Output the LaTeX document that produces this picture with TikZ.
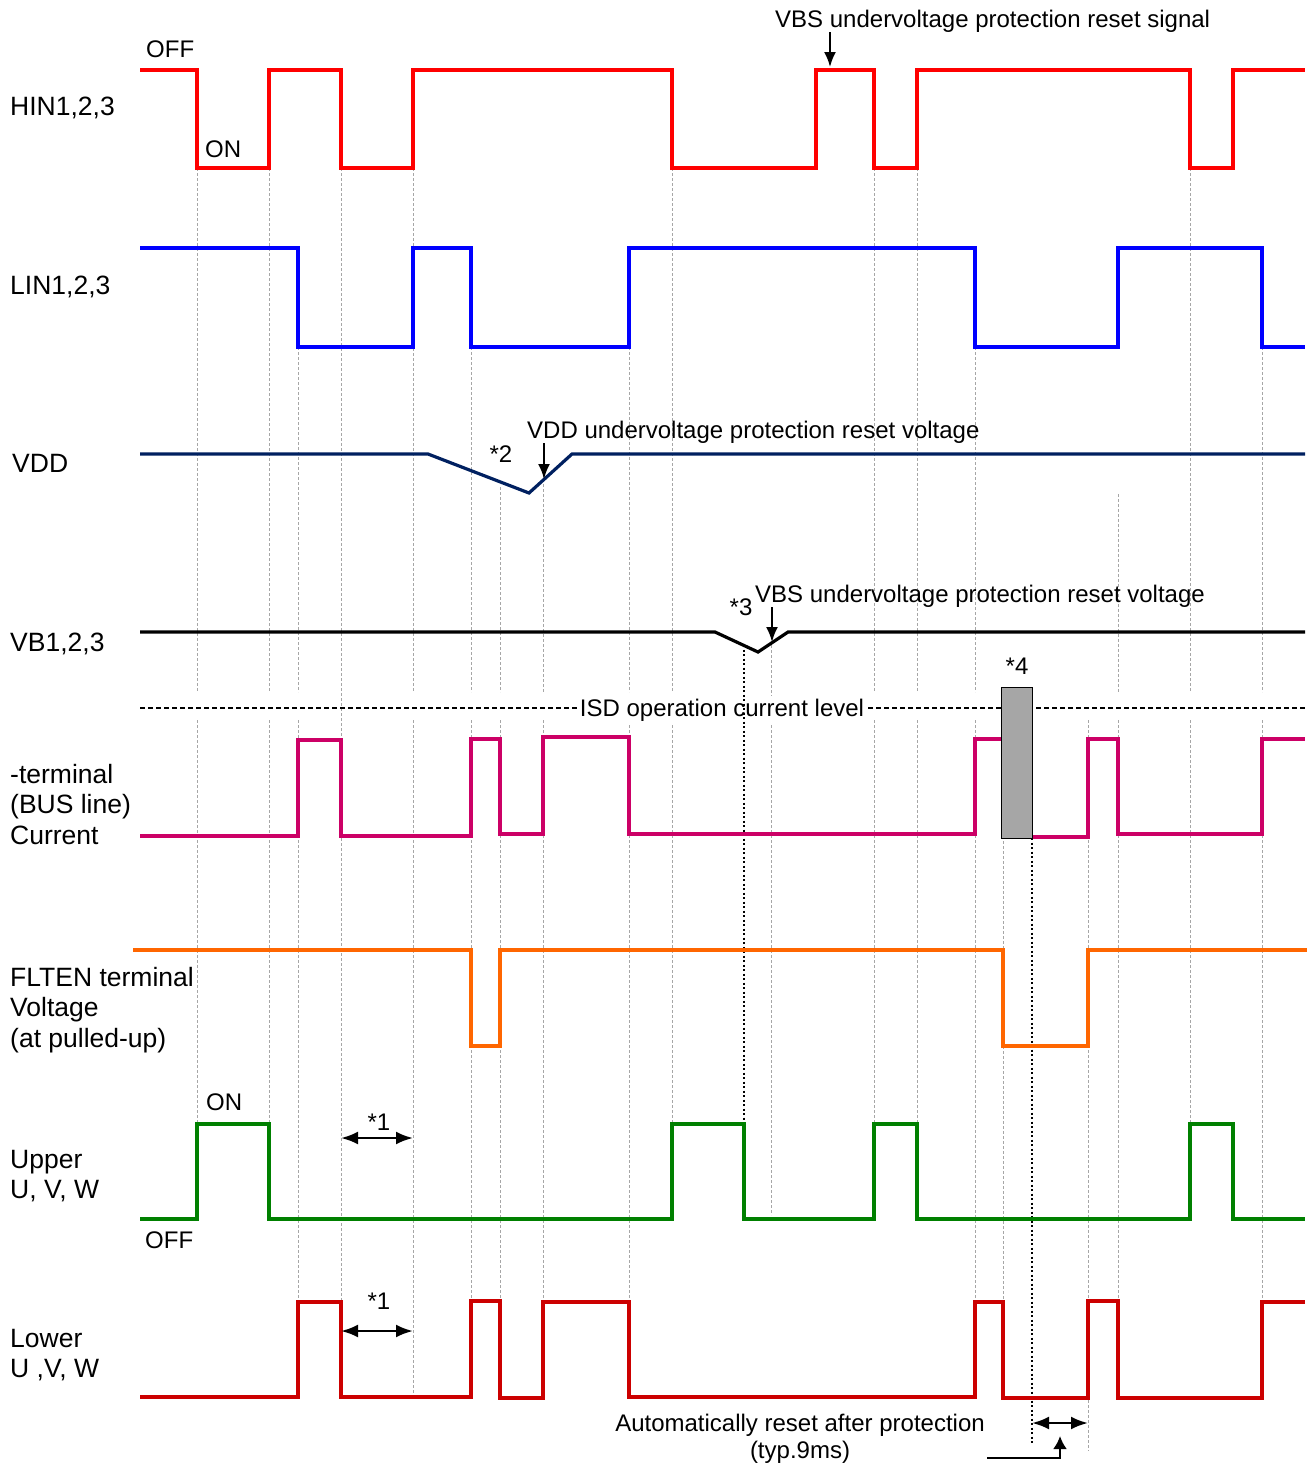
\documentclass[tikz,border=0pt]{standalone}
\usepackage{fontspec}
\setmainfont{Liberation Sans}
\usetikzlibrary{arrows.meta}
\definecolor{hinc}{RGB}{255,0,0}
\definecolor{linc}{RGB}{0,0,255}
\definecolor{vddc}{RGB}{0,32,96}
\definecolor{curc}{RGB}{204,0,102}
\definecolor{fltc}{RGB}{255,102,0}
\definecolor{uppc}{RGB}{0,128,0}
\definecolor{lowc}{RGB}{204,0,0}
\definecolor{boxgray}{RGB}{166,166,166}
\tikzset{
  sig/.style={line width=3.2pt, line join=miter},
  grid/.style={draw=black!35, line width=0.6pt, dash pattern=on 3pt off 2pt},
  lbl/.style={anchor=base west, inner sep=0pt, font=\fontsize{26.5}{30}\selectfont},
  txt/.style={anchor=base west, inner sep=0pt, font=\fontsize{24}{29}\selectfont},
  ctxt/.style={anchor=base, inner sep=0pt, font=\fontsize{24}{29}\selectfont},
  ptr/.style={line width=2pt, -{Latex[length=15pt,width=12pt]}},
  dbl/.style={line width=2.6pt, {Latex[length=17pt,width=13pt]}-{Latex[length=17pt,width=13pt]}},
  dots/.style={line width=2pt, dash pattern=on 2pt off 2.5pt}
}
\begin{document}
\begin{tikzpicture}[x=1pt,y=-1pt]
\useasboundingbox (0,0) rectangle (1314,1465);

% grid lines upper part
\foreach \x/\a/\b in {197/168/692, 269/168/692, 298/347/692, 341/168/1398, 413/168/692,
  471/347/692, 500/487/692, 543/474/692, 629/347/692, 672/168/692, 771/645/1215,
  874/168/692, 917/168/692, 975/347/692, 1118/494/692, 1190/168/692, 1262/347/692}
  \draw[grid] (\x,\a) -- (\x,\b);
% grid lines lower part
\foreach \x/\a/\b in {197/720/1124, 269/720/1219, 298/720/1398, 413/720/1398, 471/720/1398,
  500/720/1398, 543/720/1398, 629/720/1398, 672/720/1124, 874/720/1124, 917/720/1124,
  975/720/1302, 1003/841/1398, 1088/720/1451, 1118/720/1398, 1190/720/1124, 1262/720/1302}
  \draw[grid] (\x,\a) -- (\x,\b);

% ISD level
\draw[line width=1.4pt, dash pattern=on 5pt off 3pt] (140,708) -- (1305,708);
\node[ctxt, fill=white, inner xsep=1pt, inner ysep=3pt] (isd) at (722,716) {ISD operation current level};

% dotted markers
\draw[dots] (744,645) -- (744,1142);
\draw[dots] (1032,838) -- (1032,1443);

% HIN
\draw[sig, hinc] (140,70) -- (197,70) -- (197,168) -- (269,168) -- (269,70) -- (341,70) -- (341,168) -- (413,168) -- (413,70) -- (672,70) -- (672,168) -- (816,168) -- (816,70) -- (874,70) -- (874,168) -- (917,168) -- (917,70) -- (1190,70) -- (1190,168) -- (1233,168) -- (1233,70) -- (1305,70);
% LIN
\draw[sig, linc] (140,248) -- (298,248) -- (298,347) -- (413,347) -- (413,248) -- (471,248) -- (471,347) -- (629,347) -- (629,248) -- (975,248) -- (975,347) -- (1118,347) -- (1118,248) -- (1262,248) -- (1262,347) -- (1305,347);
% VDD
\draw[sig, vddc] (140,454) -- (428,454) -- (529,493) -- (572,454) -- (1305,454);
% VB
\draw[sig, black] (140,632) -- (715,632) -- (758,652) -- (788,632) -- (1305,632);
% Current
\draw[sig, curc] (140,836) -- (298,836) -- (298,740) -- (341,740) -- (341,836) -- (471,836) -- (471,739) -- (500,739) -- (500,834) -- (543,834) -- (543,737) -- (629,737) -- (629,834) -- (975,834) -- (975,739) -- (1002,739);
\draw[sig, curc] (1032,837) -- (1088,837) -- (1088,739) -- (1118,739) -- (1118,834) -- (1262,834) -- (1262,739) -- (1305,739);
% ISD box
\node[draw=black, line width=1pt, fill=boxgray, minimum width=31pt, minimum height=151pt, inner sep=0pt] (isdbox) at (1016.5,762.5) {};
% FLTEN
\draw[sig, fltc] (133,950) -- (471,950) -- (471,1046) -- (500,1046) -- (500,950) -- (1003,950) -- (1003,1046) -- (1088,1046) -- (1088,950) -- (1307,950);
% Upper
\draw[sig, uppc] (140,1219) -- (197,1219) -- (197,1124) -- (269,1124) -- (269,1219) -- (672,1219) -- (672,1124) -- (744,1124) -- (744,1219) -- (874,1219) -- (874,1124) -- (917,1124) -- (917,1219) -- (1190,1219) -- (1190,1124) -- (1233,1124) -- (1233,1219) -- (1305,1219);
% Lower
\draw[sig, lowc] (140,1397) -- (298,1397) -- (298,1302) -- (341,1302) -- (341,1397) -- (471,1397) -- (471,1301) -- (500,1301) -- (500,1398) -- (543,1398) -- (543,1302) -- (629,1302) -- (629,1397) -- (975,1397) -- (975,1302) -- (1003,1302) -- (1003,1398) -- (1088,1398) -- (1088,1301) -- (1118,1301) -- (1118,1398) -- (1262,1398) -- (1262,1302) -- (1305,1302);

% left labels
\node[lbl] (lhin) at (10,115) {HIN1,2,3};
\node[lbl] (llin) at (10,294) {LIN1,2,3};
\node[lbl] (lvdd) at (12,472) {VDD};
\node[lbl] (lvb) at (10,651) {VB1,2,3};
\node[lbl] (lcur1) at (10,783) {-terminal};
\node[lbl] (lcur2) at (10,813.5) {(BUS line)};
\node[lbl] (lcur3) at (10,844) {Current};
\node[lbl] (lflt1) at (10,986) {FLTEN terminal};
\node[lbl] (lflt2) at (10,1016.5) {Voltage};
\node[lbl] (lflt3) at (10,1047) {(at pulled-up)};
\node[lbl] (lup1) at (10,1168) {Upper};
\node[lbl] (lup2) at (10,1198) {U, V, W};
\node[lbl] (llo1) at (10,1347) {Lower};
\node[lbl] (llo2) at (10,1377) {U ,V, W};

% annotations
\node[txt] (off1) at (146,57) {OFF};
\node[txt] (on1) at (205,157) {ON};
\node[txt] (on2) at (206,1110) {ON};
\node[txt] (off2) at (145,1248) {OFF};
\node[txt] (vbssig) at (775,27) {VBS undervoltage protection reset signal};
\node[txt] (vddlbl) at (527,438) {VDD undervoltage protection reset voltage};
\node[txt] (vbslbl) at (755,602) {VBS undervoltage protection reset voltage};
\node[ctxt] (n2) at (501,462) {*2};
\node[ctxt] (n3) at (741,615) {*3};
\node[ctxt] (n4) at (1017,674) {*4};
\node[ctxt] (n1a) at (379,1130) {*1};
\node[ctxt] (n1b) at (379,1309) {*1};
\node[ctxt] (auto1) at (800,1431) {Automatically reset after protection};
\node[ctxt] (auto2) at (800,1458) {(typ.9ms)};

% pointer arrows
\coordinate (sigtip) at (830,67);
\draw[ptr] (830,32) -- (sigtip);
\coordinate (vddtip) at (544,479);
\draw[ptr] (544,443) -- (vddtip);
\coordinate (vbtip) at (772,642);
\draw[ptr] (772,607) -- (vbtip);

% double arrows
\coordinate (d1a) at (341,1138); \coordinate (d1b) at (413,1138);
\draw[dbl] (d1a) -- (d1b);
\coordinate (d2a) at (341,1331); \coordinate (d2b) at (413,1331);
\draw[dbl] (d2a) -- (d2b);
\coordinate (d3a) at (1032,1423); \coordinate (d3b) at (1088,1423);
\draw[dbl] (d3a) -- (d3b);

% bent arrow
\coordinate (b0) at (987,1458); \coordinate (b1) at (1060,1458); \coordinate (b2) at (1060,1436);
\draw[line width=2.6pt, -{Latex[length=13pt,width=14pt]}] (b0) -- (b1) -- (b2);
\end{tikzpicture}
\end{document}
